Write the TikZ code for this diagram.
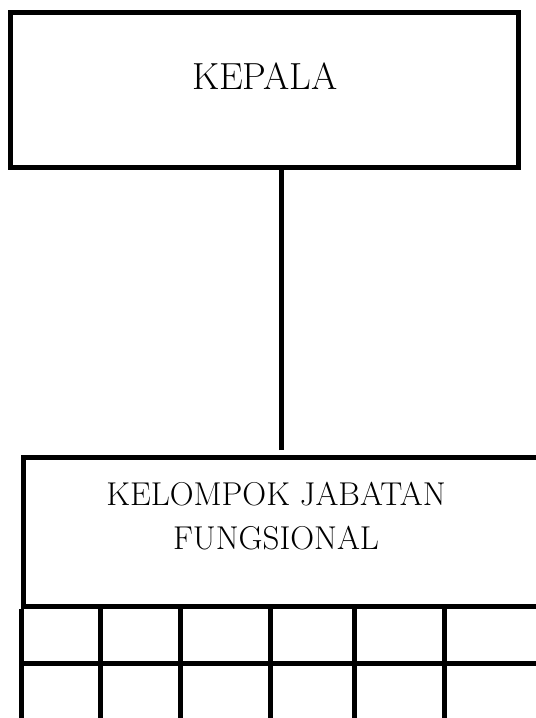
\documentclass[tikz,border=0pt]{standalone}
\begin{document}
\begin{tikzpicture}[x=0.02cm, y=-0.02cm, line width=0.1cm,
        unitbox/.style={draw, rectangle, inner sep=0pt},
        every node/.style={font=\fontsize{21.5}{26}\selectfont}]
    \useasboundingbox (0,0) rectangle (536,718);
    \clip (0,0) rectangle (536,718);
    % kepala
    \node[unitbox, minimum width=10.17cm, minimum height=3.12cm] (kepala) at (264.75,90) {};
    \node (kepala-label) at (265,76) {KEPALA};
    % kelompok jabatan fungsional
    \node[unitbox, minimum width=10.3cm, minimum height=2.98cm] (jf) at (281,532) {};
    \node[align=center, font=\fontsize{18.8}{25.5}\selectfont] (jf-label) at (276,516)
        {KELOMPOK JABATAN\\FUNGSIONAL};
    \draw[shorten <=0.1cm] (jf.north) -- (jf.north |- kepala.south);
    % kolom-kolom di bawah
    \coordinate (row-1) at (0,663);
    \coordinate (row-2) at (0,740);
    \draw (jf.south west) -- (jf.west |- row-2);
    \draw (jf.south east) -- (jf.east |- row-2);
    \draw (jf.west |- row-1) -- (jf.east |- row-1);
    \foreach \colx [count=\index] in {100.5,180.5,270.5,354,444}
        \draw (\colx,606.5) coordinate (col-\index) -- (col-\index |- row-2);
\end{tikzpicture}
\end{document}
